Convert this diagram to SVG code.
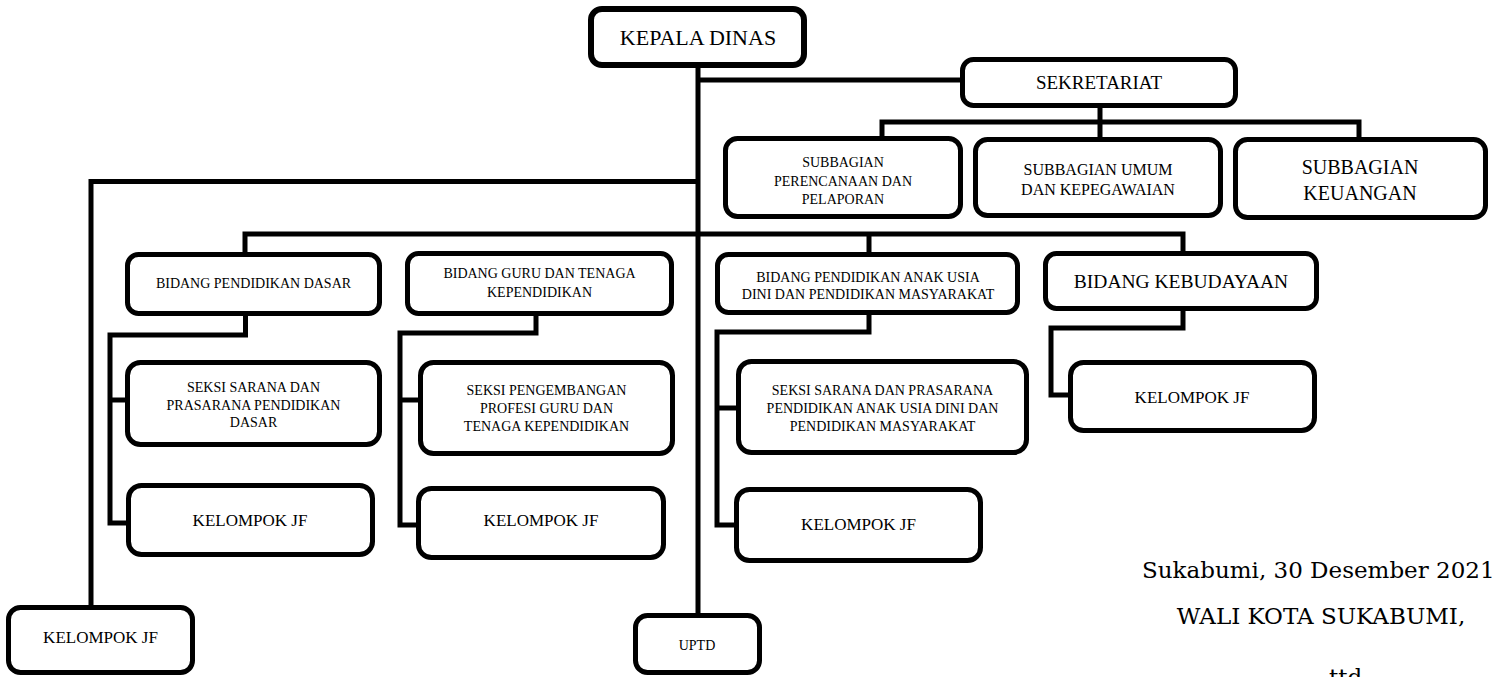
<svg xmlns="http://www.w3.org/2000/svg" width="1492" height="677" viewBox="0 0 1492 677">
<style>
.box{fill:#fff;stroke:#000;stroke-width:5}
text{font-family:"Liberation Serif","Times New Roman",serif;fill:#000}
.t{text-anchor:middle}
.s14{font-size:14px}
.s16{font-size:16px}
.s17{font-size:17px}
.s20{font-size:20px}
.ln{fill:none;stroke:#000;stroke-width:5;stroke-linejoin:miter}
.sig{font-family:"DejaVu Serif",serif;font-size:23px}
</style>
<rect width="1492" height="677" fill="#fff"/>
<g id="connectors" class="ln">
<path d="M698 68V613"/>
<path d="M698 80H960"/>
<path d="M1100 108V137"/>
<path d="M882 136V122H1359V137"/>
<path d="M698 181.5H91V605"/>
<path d="M245 252V234H1183V251"/>
<path d="M869 234V252"/>
<path d="M245.5 316V335H110V523H126"/>
<path d="M110 400H125"/>
<path d="M536 316V333H400V525H416"/>
<path d="M400 400H418"/>
<path d="M869 315V332H717V525H734"/>
<path d="M717 408H736"/>
<path d="M1183 311V328H1051V395H1068"/>
</g>
<g id="kepala-dinas"><rect class="box" x="591" y="9" width="213" height="56" rx="11" style="stroke-width:6"/><text class="t" x="698" y="45" font-size="22">KEPALA DINAS</text></g>
<g id="sekretariat"><rect class="box" x="962.5" y="59.5" width="273" height="46" rx="11"/><text class="t" x="1099" y="89" font-size="19">SEKRETARIAT</text></g>
<g id="sub-perencanaan"><rect class="box" x="725.5" y="138.5" width="235" height="78" rx="12"/><text class="t s14" x="843"><tspan x="843" y="167">SUBBAGIAN</tspan><tspan x="843" y="185.5">PERENCANAAN DAN</tspan><tspan x="843" y="204">PELAPORAN</tspan></text></g>
<g id="sub-umum"><rect class="box" x="975.5" y="139.5" width="245" height="76" rx="12"/><text class="t s16" x="1098"><tspan x="1098" y="175">SUBBAGIAN UMUM</tspan><tspan x="1098" y="195">DAN KEPEGAWAIAN</tspan></text></g>
<g id="sub-keuangan"><rect class="box" x="1235.5" y="139.5" width="250" height="78" rx="12"/><text class="t s20" x="1360"><tspan x="1360" y="174">SUBBAGIAN</tspan><tspan x="1360" y="200">KEUANGAN</tspan></text></g>
<g id="bidang-dasar"><rect class="box" x="127.5" y="254.5" width="252" height="59" rx="11"/><text class="t s14" x="253.5" y="288">BIDANG PENDIDIKAN DASAR</text></g>
<g id="bidang-guru"><rect class="box" x="407.5" y="253.5" width="264" height="60" rx="11"/><text class="t s14" x="539.5"><tspan x="539.5" y="278">BIDANG GURU DAN TENAGA</tspan><tspan x="539.5" y="297">KEPENDIDIKAN</tspan></text></g>
<g id="bidang-paud"><rect class="box" x="717.5" y="254.5" width="300" height="58" rx="11"/><text class="t s14" x="868"><tspan x="868" y="282">BIDANG PENDIDIKAN ANAK USIA</tspan><tspan x="868" y="299">DINI DAN PENDIDIKAN MASYARAKAT</tspan></text></g>
<g id="bidang-kebudayaan"><rect class="box" x="1045.5" y="253.5" width="271" height="55" rx="11"/><text class="t" x="1181" y="288" font-size="19.5">BIDANG KEBUDAYAAN</text></g>
<g id="seksi-dasar"><rect class="box" x="127.5" y="362.5" width="252" height="82" rx="13"/><text class="t s14" x="253.5"><tspan x="253.5" y="392">SEKSI SARANA DAN</tspan><tspan x="253.5" y="409.5">PRASARANA PENDIDIKAN</tspan><tspan x="253.5" y="427">DASAR</tspan></text></g>
<g id="kjf-dasar"><rect class="box" x="128.5" y="485.5" width="244" height="69" rx="13"/><text class="t s17" x="250" y="526">KELOMPOK JF</text></g>
<g id="seksi-guru"><rect class="box" x="420.5" y="362.5" width="252" height="91" rx="13"/><text class="t s14" x="546.5"><tspan x="546.5" y="395">SEKSI PENGEMBANGAN</tspan><tspan x="546.5" y="413">PROFESI GURU DAN</tspan><tspan x="546.5" y="431">TENAGA KEPENDIDIKAN</tspan></text></g>
<g id="kjf-guru"><rect class="box" x="418.5" y="488.5" width="245" height="69" rx="13"/><text class="t s17" x="541" y="526">KELOMPOK JF</text></g>
<g id="seksi-paud"><rect class="box" x="738.5" y="361.5" width="288" height="91" rx="13"/><text class="t s14" x="882.5"><tspan x="882.5" y="395">SEKSI SARANA DAN PRASARANA</tspan><tspan x="882.5" y="413">PENDIDIKAN ANAK USIA DINI DAN</tspan><tspan x="882.5" y="431">PENDIDIKAN MASYARAKAT</tspan></text></g>
<g id="kjf-paud"><rect class="box" x="736.5" y="489.5" width="244" height="71" rx="13"/><text class="t s17" x="858.5" y="530">KELOMPOK JF</text></g>
<g id="kjf-kebudayaan"><rect class="box" x="1070.5" y="362.5" width="244" height="68" rx="13"/><text class="t s17" x="1192" y="403">KELOMPOK JF</text></g>
<g id="kjf-dinas"><rect class="box" x="8.5" y="607.5" width="184" height="65" rx="12"/><text class="t s17" x="100.5" y="643">KELOMPOK JF</text></g>
<g id="uptd"><rect class="box" x="635.5" y="615.5" width="124" height="57" rx="12"/><text class="t s14" x="697" y="650">UPTD</text></g>
<g id="signature">
<text class="sig" x="1142" y="578">Sukabumi, 30 Desember 2021</text>
<text class="sig" x="1321" y="624" text-anchor="middle">WALI KOTA SUKABUMI,</text>
<text class="sig" x="1329" y="685">ttd</text>
</g>
</svg>
